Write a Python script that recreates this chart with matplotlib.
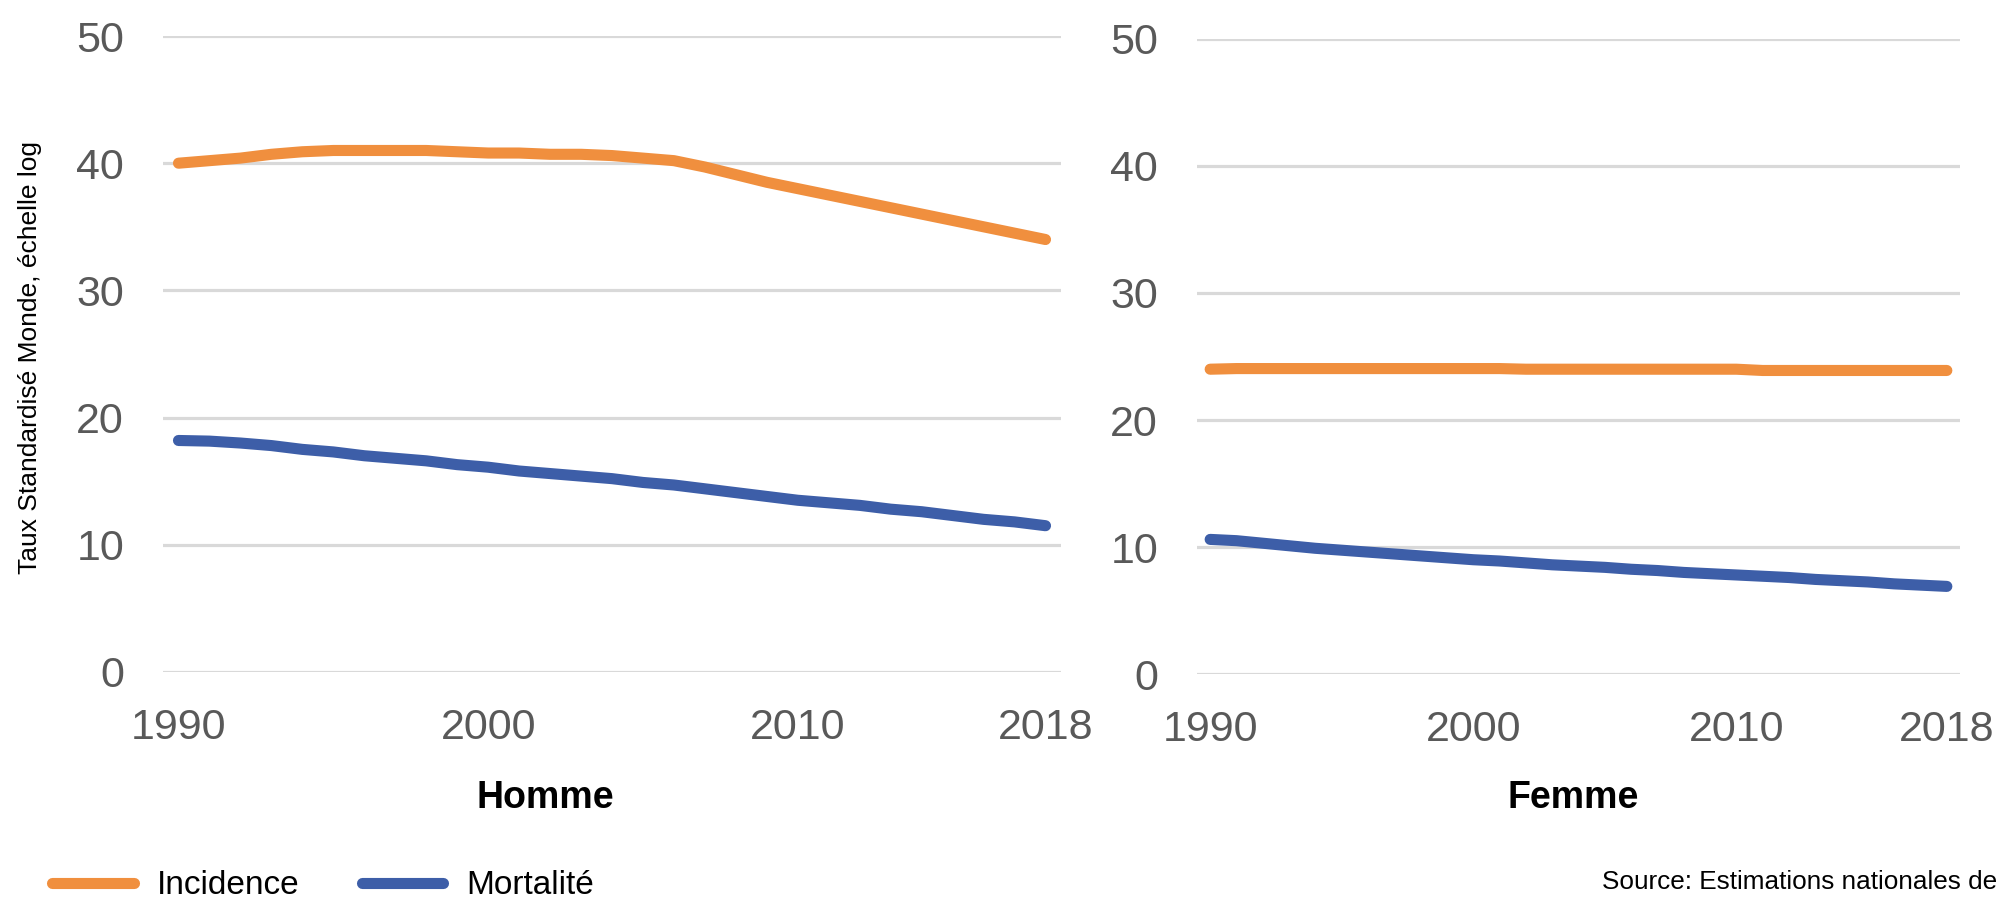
import numpy as np
import matplotlib.pyplot as plt
from matplotlib.ticker import FixedLocator

plt.rcParams['font.family'] = ['Liberation Sans', 'DejaVu Sans']

annees = np.arange(1990, 2019)

# Homme
inc_homme = [40.0, 40.2, 40.4, 40.7, 40.9, 41.0, 41.0, 41.0, 41.0, 40.9,
             40.8, 40.8, 40.7, 40.7, 40.6, 40.4, 40.2, 39.7, 39.1, 38.5,
             38.0, 37.5, 37.0, 36.5, 36.0, 35.5, 35.0, 34.5, 34.0]
mort_homme = [18.2, 18.15, 18.0, 17.8, 17.5, 17.3, 17.0, 16.8, 16.6, 16.3,
              16.1, 15.8, 15.6, 15.4, 15.2, 14.9, 14.7, 14.4, 14.1, 13.8,
              13.5, 13.3, 13.1, 12.8, 12.6, 12.3, 12.0, 11.8, 11.5]

# Femme
inc_femme = [24.0, 24.05, 24.05, 24.05, 24.05, 24.05, 24.05, 24.05, 24.05, 24.05,
             24.05, 24.05, 24.0, 24.0, 24.0, 24.0, 24.0, 24.0, 24.0, 24.0,
             24.0, 23.9, 23.9, 23.9, 23.9, 23.9, 23.9, 23.9, 23.9]
mort_femme = [10.6, 10.5, 10.3, 10.1, 9.9, 9.75, 9.6, 9.45, 9.3, 9.15,
              9.0, 8.9, 8.75, 8.6, 8.5, 8.4, 8.25, 8.15, 8.0, 7.9,
              7.8, 7.7, 7.6, 7.45, 7.35, 7.25, 7.1, 7.0, 6.9]

annees_affichees = [1990, 2000, 2010, 2018]
graduations = [0, 10, 20, 30, 40, 50]

orange = '#F08F3E'
bleu = '#3D5EA8'
gris = '#595959'

fig = plt.figure(figsize=(20, 8.98), dpi=100)
ax1 = fig.add_axes([0.0815, 0.2517, 0.449, 0.7082])
ax2 = fig.add_axes([0.5985, 0.2494, 0.3815, 0.7072])

for ax, inc, mort in [(ax1, inc_homme, mort_homme), (ax2, inc_femme, mort_femme)]:
    ax.plot(annees, inc, color=orange, lw=8, solid_capstyle='round', label='Incidence')
    ax.plot(annees, mort, color=bleu, lw=8, solid_capstyle='round', label='Mortalité')
    ax.set_xlim(1989.5, 2018.5)
    ax.set_ylim(0, 50)
    ax.yaxis.set_major_locator(FixedLocator(graduations))
    ax.xaxis.set_major_locator(FixedLocator(annees_affichees))
    ax.grid(axis='y', color='#D9D9D9', lw=2.3)
    ax.set_axisbelow(True)
    for s in ax.spines.values():
        s.set_visible(False)
    ax.tick_params(axis='y', length=0, pad=28, labelsize=31, labelcolor=gris)
    ax.tick_params(axis='x', length=0, pad=26, labelsize=31, labelcolor=gris)

fig.text(0.015, 1 - 358 / 898, 'Taux Standardisé Monde, échelle log', rotation=90,
         ha='center', va='center', fontsize=19, color='black')

fig.text(545 / 2000, 1 - 798 / 898, 'Homme', ha='center', va='center',
         fontsize=27, fontweight='bold', color='black')
fig.text(1573 / 2000, 1 - 798 / 898, 'Femme', ha='center', va='center',
         fontsize=27, fontweight='bold', color='black')

handles, labels = ax1.get_legend_handles_labels()
fig.legend(handles, labels, loc='center left', bbox_to_anchor=(0.0195, 1 - 886 / 898),
           ncol=2, frameon=False, fontsize=24, handlelength=2.45,
           handletextpad=0.7, columnspacing=1.85, borderaxespad=0)

fig.text(1602 / 2000, 1 - 882 / 898, 'Source: Estimations nationales de',
         ha='left', va='center', fontsize=18.8, color='black')

fig.savefig('out.png', dpi=100)
